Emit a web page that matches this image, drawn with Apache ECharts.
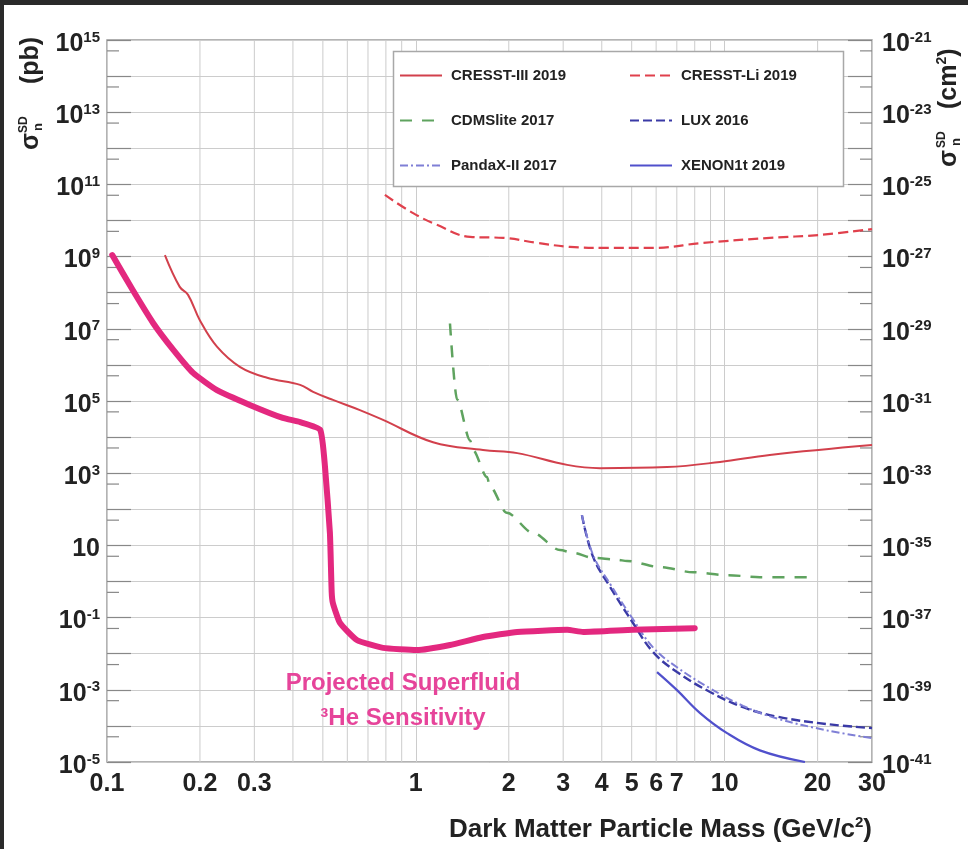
<!DOCTYPE html>
<html><head><meta charset="utf-8">
<script src="https://cdn.jsdelivr.net/npm/echarts@6/dist/echarts.min.js"></script>
<style>html,body{margin:0;padding:0;background:#fff}#c{width:968px;height:849px}</style>
</head><body><div id="c"></div>
<script>
const FONT = '"Liberation Sans", Arial, sans-serif';

// ---- data (x: GeV/c^2, y: pb) ----
const superfluid = [[0.104,1.1e9],[0.121,1.2e8],[0.141,1.45e7],[0.164,2.6e6],[0.19,6e5],[0.227,2e5],[0.29,7.8e4],[0.371,3.4e4],[0.422,2.6e4],[0.49,1.6e4],[0.508,1.5e3],[0.527,22],[0.534,0.51],[0.539,0.25],[0.568,0.071],[0.644,0.024],[0.783,0.0145],[1.006,0.0126],[1.29,0.0174],[1.65,0.029],[2.13,0.04],[3.09,0.046],[3.48,0.04],[5.05,0.046],[8.0,0.051]];
const cresstIII = [[0.154,1.1e9],[0.172,1.45e8],[0.183,8.7e7],[0.2,1.7e7],[0.227,3.2e6],[0.27,8.7e5],[0.33,4.4e5],[0.422,2.8e5],[0.465,1.8e5],[0.539,1.07e5],[0.659,5.6e4],[0.783,3e4],[1.137,7.2e3],[1.65,4.4e3],[2.13,3.6e3],[3.09,1.7e3],[3.95,1.38e3],[6.51,1.48e3],[9.66,2.05e3],[14,3.2e3],[30,6e3]];
const cresstLi = [[0.794,5.1e10],[0.98,1.6e10],[1.17,7.6e9],[1.5,3.5e9],[1.92,3.3e9],[2.47,2.4e9],[3.15,1.86e9],[4.04,1.74e9],[5.86,1.74e9],[8.51,2.4e9],[14,3.3e9],[20.4,4e9],[30,5.8e9]];
const cdmslite = [[1.29,1.4e7],[1.36,1.1e5],[1.5,8e3],[1.53,4.4e3],[1.7,7.8e2],[1.74,4.2e2],[1.97,80],[2.4,22],[2.93,7.4],[3.23,6.2],[3.75,4.5],[4.48,4],[4.83,3.7],[6.18,2.5],[7.91,1.8],[10.2,1.5],[13,1.32],[18.9,1.32]];
const lux2016 = [[3.45,69],[3.75,4.8],[4.26,0.7],[5.05,0.071],[5.86,0.0112],[7.01,3.1e-3],[8.97,8.7e-4],[11.47,3.3e-4],[14.8,1.8e-4],[21.5,1.12e-4],[30,8.7e-5]];
const pandax2017 = [[3.45,69],[3.75,5.4],[4.26,0.85],[5.05,0.09],[5.86,0.015],[7.01,4.2e-3],[8.97,1.1e-3],[11.47,3.6e-4],[14.8,1.6e-4],[21.5,7.5e-5],[30,4.6e-5]];
const xenon1t = [[6.04,3.1e-3],[7.01,9.8e-4],[8.31,2.3e-4],[10.18,6.3e-5],[13,2.1e-5],[18.2,1e-5]];

// ---- axes / ticks ----
const xAxisLabelValues = [0.1, 1, 10, 30];
const xExtraLabelValues = [0.2, 0.3, 2, 3, 4, 5, 6, 7, 20];
const xMinorGridValues = [0.2,0.3,0.4,0.5,0.6,0.7,0.8,0.9,2,3,4,5,6,7,8,9,20];
const leftExponents = [15,13,11,9,7,5,3,1,-1,-3,-5];
const rightExponents = [-21,-23,-25,-27,-29,-31,-33,-35,-37,-39,-41];
const pbToCm2Exponent = -36; // 1 pb = 1e-36 cm^2
const yMinorTickValues = [5e14,5e13,5e12,5e11,5e10,5e9,5e8,5e7,5e6,5e5,5e4,5e3,5e2,50,5,0.5,0.05,5e-3,5e-4,5e-5];

const TXT = '#222';
const richLab = {
  b: {fontSize: 25, fontWeight: 'bold', fontFamily: FONT, color: TXT, lineHeight: 28},
  s: {fontSize: 15, fontWeight: 'bold', fontFamily: FONT, color: TXT, lineHeight: 15, verticalAlign: 'top'}
};
function powLabel(e) {
  if (e === 1) return '{b|10}';
  return '{b|10}{s|' + (e < 0 ? '-' + (-e) : e) + '}';
}

const chart = echarts.init(document.getElementById('c'), null, {renderer: 'canvas'});

const legendCommon = {
  orient: 'vertical', top: 63, itemWidth: 42, itemHeight: 14, itemGap: 30,
  textStyle: {fontSize: 15, fontWeight: 'bold', fontFamily: FONT, color: TXT, padding: [0, 0, 0, 4]},
  itemStyle: {opacity: 0, borderWidth: 0},
  selectedMode: false, z: 6
};

const option = {
  backgroundColor: '#fff',
  animation: false,
  grid: {left: 107, top: 40, right: 96, bottom: 87, show: true, borderColor: '#9a9a9a', borderWidth: 1.5, outerBoundsMode: 'none', containLabel: false},
  xAxis: {
    type: 'log', logBase: 10, min: 0.1, max: 30, interval: 1,
    axisLine: {show: false},
    axisTick: {show: false},
    splitLine: {show: true, lineStyle: {color: '#cccccc', width: 1}},
    axisLabel: {
      showMinLabel: true, showMaxLabel: true, margin: 10,
      fontSize: 25, fontWeight: 'bold', fontFamily: FONT, color: TXT,
      formatter: v => { const r = +(+v).toPrecision(3); return xAxisLabelValues.includes(r) ? String(r) : ''; }
    }
  },
  yAxis: [{
    type: 'log', logBase: 10, min: 1e-5, max: 1e15, interval: 1,
    axisLine: {show: false},
    axisTick: {show: true, inside: true, length: 24, lineStyle: {color: '#888', width: 1.2}},
    splitLine: {show: true, lineStyle: {color: '#cccccc', width: 1}},
    axisLabel: {
      showMinLabel: true, showMaxLabel: true, margin: 7, padding: [8, 0, 0, 0],
      formatter: v => { const e = Math.round(Math.log10(v)); return leftExponents.includes(e) ? powLabel(e) : ''; },
      rich: richLab
    }
  }, {
    type: 'log', logBase: 10, min: 1e-5, max: 1e15, interval: 1, position: 'right',
    axisLine: {show: false},
    axisTick: {show: true, inside: true, length: 24, lineStyle: {color: '#888', width: 1.2}},
    splitLine: {show: false},
    axisLabel: {
      showMinLabel: true, showMaxLabel: true, margin: 10, padding: [8, 0, 0, 0],
      formatter: v => { const e = Math.round(Math.log10(v)) + pbToCm2Exponent; return rightExponents.includes(e) ? powLabel(e) : ''; },
      rich: richLab
    }
  }],
  legend: [
    Object.assign({data: ['CRESST-III 2019', 'CDMSlite 2017', 'PandaX-II 2017'], left: 394}, legendCommon),
    Object.assign({data: ['CRESST-Li 2019', 'LUX 2016', 'XENON1t 2019'], left: 624}, legendCommon)
  ],
  series: [
    {
      type: 'custom', name: 'xgrid', z: 1, silent: true,
      data: xMinorGridValues.map(v => [v, 1]),
      encode: {x: 0, y: 1},
      renderItem: (params, api) => {
        const v = api.value(0);
        const top = api.coord([v, 1e15]);
        const bot = api.coord([v, 1e-5]);
        const children = [{type: 'line', shape: {x1: bot[0], y1: bot[1], x2: top[0], y2: top[1]}, style: {stroke: '#cccccc', lineWidth: 1}}];
        if (xExtraLabelValues.includes(v)) {
          children.push({type: 'text', x: bot[0], y: bot[1] + 10, style: {text: String(v), font: 'bold 25px ' + FONT, fill: TXT, align: 'center', verticalAlign: 'top'}});
        }
        return {type: 'group', children: children};
      }
    },
    {
      type: 'custom', name: 'yminor', z: 1, silent: true,
      data: yMinorTickValues.map(v => [0.1, v]),
      encode: {x: 0, y: 1},
      renderItem: (params, api) => {
        const v = api.value(1);
        const l = api.coord([0.1, v]);
        const r = api.coord([30, v]);
        return {type: 'group', children: [
          {type: 'line', shape: {x1: l[0], y1: l[1], x2: l[0] + 12, y2: l[1]}, style: {stroke: '#888', lineWidth: 1.2}},
          {type: 'line', shape: {x1: r[0], y1: r[1], x2: r[0] - 12, y2: r[1]}, style: {stroke: '#888', lineWidth: 1.2}}
        ]};
      }
    },
    {name: 'CRESST-III 2019', type: 'line', data: cresstIII, showSymbol: false, symbol: 'none', smooth: 0.4, z: 3,
     lineStyle: {color: '#d2404c', width: 2}, itemStyle: {color: '#d2404c'}},
    {name: 'CRESST-Li 2019', type: 'line', data: cresstLi, showSymbol: false, symbol: 'none', smooth: 0.4, z: 3,
     lineStyle: {color: '#e0404c', width: 2.2, type: [10, 5]}, itemStyle: {color: '#e0404c'}},
    {name: 'CDMSlite 2017', type: 'line', data: cdmslite, showSymbol: false, symbol: 'none', smooth: 0.3, smoothMonotone: 'x', z: 3,
     lineStyle: {color: '#5fa35f', width: 2.5, type: [12, 10]}, itemStyle: {color: '#5fa35f'}},
    {name: 'LUX 2016', type: 'line', data: lux2016, showSymbol: false, symbol: 'none', smooth: 0.4, z: 3,
     lineStyle: {color: '#3a3aa6', width: 2.4, type: [9, 4]}, itemStyle: {color: '#3a3aa6'}},
    {name: 'PandaX-II 2017', type: 'line', data: pandax2017, showSymbol: false, symbol: 'none', smooth: 0.4, z: 3,
     lineStyle: {color: '#7f7fd6', width: 2, type: [8, 3, 2, 3]}, itemStyle: {color: '#7f7fd6'}},
    {name: 'XENON1t 2019', type: 'line', data: xenon1t, showSymbol: false, symbol: 'none', smooth: 0.4, z: 3,
     lineStyle: {color: '#5050cc', width: 2.2}, itemStyle: {color: '#5050cc'}},
    {name: 'Projected Superfluid', type: 'line', data: superfluid, showSymbol: false, symbol: 'none', smooth: 0.15, z: 4,
     lineStyle: {color: '#e3287f', width: 6, cap: 'round', join: 'round'}, itemStyle: {color: '#e3287f'}}
  ],
  graphic: [
    {type: 'rect', z: 0, shape: {x: 0, y: 0, width: 968, height: 5}, style: {fill: '#2a2a2a'}},
    {type: 'rect', z: 0, shape: {x: 0, y: 0, width: 4, height: 849}, style: {fill: '#2a2a2a'}},
    {type: 'rect', z: 5, shape: {x: 393.5, y: 51.5, width: 450, height: 135}, style: {fill: '#fff', stroke: '#a8a8a8', lineWidth: 1.5}},
    {type: 'text', z: 5, x: 403, y: 683, style: {text: 'Projected Superfluid', font: 'bold 24px ' + FONT, fill: '#e6449a', align: 'center', verticalAlign: 'middle'}},
    {type: 'text', z: 5, x: 403, y: 718, style: {text: '³He Sensitivity', font: 'bold 24px ' + FONT, fill: '#e6449a', align: 'center', verticalAlign: 'middle'}},
    {type: 'text', z: 5, x: 872, y: 830, style: {
      text: '{t|Dark Matter Particle Mass (GeV/c}{s|2}{t|)}', align: 'right', verticalAlign: 'middle',
      rich: {t: {font: 'bold 26px ' + FONT, fill: TXT, lineHeight: 30}, s: {font: 'bold 15px ' + FONT, fill: TXT, verticalAlign: 'top', lineHeight: 14}}
    }},
    {type: 'group', z: 5, x: 31, y: 150, rotation: Math.PI / 2, children: [
      {type: 'text', x: 0, y: 0, style: {text: 'σ', font: 'bold 25px ' + FONT, fill: TXT, verticalAlign: 'middle'}},
      {type: 'text', x: 17, y: -7, style: {text: 'SD', font: 'bold 12px ' + FONT, fill: TXT, verticalAlign: 'middle'}},
      {type: 'text', x: 19, y: 7, style: {text: 'n', font: 'bold 13px ' + FONT, fill: TXT, verticalAlign: 'middle'}},
      {type: 'text', x: 66, y: 0, style: {text: '(pb)', font: 'bold 25px ' + FONT, fill: TXT, verticalAlign: 'middle'}}
    ]},
    {type: 'group', z: 5, x: 949, y: 167, rotation: Math.PI / 2, children: [
      {type: 'text', x: 0, y: 0, style: {text: 'σ', font: 'bold 25px ' + FONT, fill: TXT, verticalAlign: 'middle'}},
      {type: 'text', x: 19, y: -7, style: {text: 'SD', font: 'bold 12px ' + FONT, fill: TXT, verticalAlign: 'middle'}},
      {type: 'text', x: 21, y: 7, style: {text: 'n', font: 'bold 13px ' + FONT, fill: TXT, verticalAlign: 'middle'}},
      {type: 'text', x: 58, y: 0, style: {
        text: '{t|(cm}{s|2}{t|)}', verticalAlign: 'middle',
        rich: {t: {font: 'bold 25px ' + FONT, fill: TXT, lineHeight: 28}, s: {font: 'bold 14px ' + FONT, fill: TXT, verticalAlign: 'top', lineHeight: 14}}
      }}
    ]}
  ]
};
chart.setOption(option);
</script>
</body></html>
